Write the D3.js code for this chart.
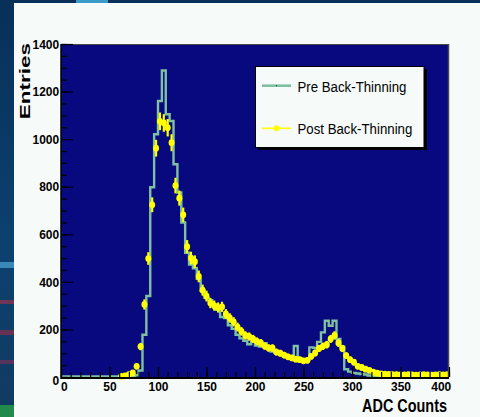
<!DOCTYPE html>
<html>
<head>
<meta charset="utf-8">
<script src="https://cdn.jsdelivr.net/npm/d3@7"></script>
<style>
  body { margin: 0; background: #0a3560; overflow: hidden; }
  text { font-family: "Liberation Sans", Arial, Helvetica, sans-serif; }
</style>
</head>
<body>
<div id="my_dataviz"></div>
<script>
// histogram binning: 100 bins of 4 ADC counts from 0 to 400
var binWidth = 4
var seriesNames = ["Pre Back-Thinning", "Post Back-Thinning"]

// entries per bin
var preCounts = [
  0, 0, 0, 0, 0, 0, 0, 0, 0, 0, 0, 0, 0, 0, 0, 0, 0, 0, 0,
  5, 25, 175, 338, 795, 1018, 1158, 1286, 1102, 1074, 892, 773, 647,
  520, 470, 455, 410, 360, 330, 320, 300, 280, 250, 245, 215, 200, 175,
  160, 150, 135, 145, 130, 125, 140, 120, 105, 100, 95, 90, 85, 80,
  128, 75, 65, 70, 122, 120, 145, 185, 234, 213, 234, 157, 125,
  30, 20, 15, 12, 10, 8, 4, 2,
  2, 1, 2, 1, 1, 2, 1, 1, 1, 2, 1, 1, 1, 1, 2, 1, 1, 1, 1
]
var postCounts = [
  0, 0, 0, 0, 0, 0, 0, 0, 0, 0, 0, 0, 0, 0, 0,
  2, 5, 10, 17, 45, 128, 305, 498, 724, 962, 1075, 1068, 1048, 985,
  805, 752, 682, 548, 500, 485, 423, 365, 340, 311, 300, 292, 295,
  265, 248, 232, 210, 192, 175, 170, 160, 150, 143, 130, 122, 122,
  105, 100, 92, 85, 80, 75, 73, 68, 70, 87, 101, 120, 129, 136, 160,
  175, 143, 120, 90, 73, 62, 45, 40, 33, 28, 20, 16, 13,
  12, 11, 10, 10, 9, 9, 10, 9, 8, 9, 10, 9, 8, 9, 10, 9, 10
]
var xTicks = [0, 50, 100, 150, 200, 250, 300, 350, 400]
var yTicks = [0, 200, 400, 600, 800, 1000, 1200, 1400]

var W = 480, H = 417
var svg = d3.select("#my_dataviz")
  .append("svg")
  .attr("width", W)
  .attr("height", H)

// slide background strip + white pad
var grad = svg.append("defs").append("linearGradient")
  .attr("id", "bg").attr("x1", 0).attr("y1", 0).attr("x2", 0).attr("y2", 1)
grad.append("stop").attr("offset", "0%").attr("stop-color", "#083058")
grad.append("stop").attr("offset", "60%").attr("stop-color", "#0c416f")
grad.append("stop").attr("offset", "100%").attr("stop-color", "#123a60")
svg.append("rect").attr("width", W).attr("height", H).attr("fill", "url(#bg)")
svg.append("rect").attr("x", 0).attr("y", 262).attr("width", 14).attr("height", 6).attr("fill", "#4fa6d8").attr("opacity", 0.7)
svg.append("rect").attr("x", 0).attr("y", 300).attr("width", 14).attr("height", 4).attr("fill", "#b0304a").attr("opacity", 0.6)
svg.append("rect").attr("x", 0).attr("y", 330).attr("width", 14).attr("height", 5).attr("fill", "#a02c48").attr("opacity", 0.6)
svg.append("rect").attr("x", 0).attr("y", 360).attr("width", 14).attr("height", 4).attr("fill", "#9a2a50").attr("opacity", 0.5)
svg.append("rect").attr("x", 0).attr("y", 405).attr("width", 14).attr("height", 12).attr("fill", "#1f8a4a")
svg.append("rect").attr("x", 76).attr("y", 0).attr("width", 32).attr("height", 3).attr("fill", "#3a9cc8")
svg.append("rect").attr("x", 14).attr("y", 3).attr("width", W - 14).attr("height", H - 3).attr("fill", "#f6faf8")

var plotL = 61, plotR = 449, plotT = 44, plotB = 377

var x = d3.scaleLinear().domain([0, 400]).range([plotL, plotR])
var y = d3.scaleLinear().domain([0, 1400]).range([plotB, plotT])

// plot area
svg.append("rect")
  .attr("x", plotL).attr("y", plotT)
  .attr("width", plotR - plotL).attr("height", plotB - plotT)
  .attr("fill", "#08087f")

// pre: step outline
var stepPts = preCounts.map(function (d, i) { return [i * binWidth, d] })
stepPts.push([preCounts.length * binWidth, preCounts[preCounts.length - 1]])
var stepLine = d3.line()
  .x(function (d) { return x(d[0]) })
  .y(function (d) { return y(d[1]) - 0.6 })
  .curve(d3.curveStepAfter)
svg.append("path")
  .datum(stepPts)
  .attr("fill", "none")
  .attr("stroke", "#7fc0a2")
  .attr("stroke-width", 2.4)
  .attr("d", stepLine)

// post: markers with error bars
var postPts = postCounts
  .map(function (d, i) { return { c: i * binWidth + binWidth / 2, v: d } })
  .filter(function (d) { return d.v > 0 })
var post = svg.append("g")
post.selectAll("line")
  .data(postPts)
  .enter().append("line")
  .attr("x1", function (d) { return x(d.c) })
  .attr("x2", function (d) { return x(d.c) })
  .attr("y1", function (d) { return y(d.v + Math.sqrt(d.v)) - 1 })
  .attr("y2", function (d) { return y(Math.max(0, d.v - Math.sqrt(d.v))) + 1 })
  .attr("stroke", "#ffff00")
  .attr("stroke-width", 2.2)
post.selectAll("ellipse")
  .data(postPts)
  .enter().append("ellipse")
  .attr("cx", function (d) { return x(d.c) })
  .attr("cy", function (d) { return y(d.v) })
  .attr("rx", 3)
  .attr("ry", 3.4)
  .attr("fill", "#ffff00")

// frame
svg.append("line").attr("x1", plotL).attr("x2", plotR).attr("y1", plotT + 0.5).attr("y2", plotT + 0.5)
  .attr("stroke", "#4a4a4a").attr("stroke-width", 1)
svg.append("line").attr("x1", plotR - 0.5).attr("x2", plotR - 0.5).attr("y1", plotT).attr("y2", plotB)
  .attr("stroke", "#4a4a4a").attr("stroke-width", 1.5)

// Y axis (ticks inward)
var yMinor = svg.append("g").attr("transform", "translate(" + plotL + ",0)")
  .call(d3.axisLeft(y).tickValues(d3.range(0, 1401, 50)).tickSize(-6).tickFormat(""))
var yAxis = svg.append("g").attr("transform", "translate(" + plotL + ",0)")
  .call(d3.axisLeft(y).tickValues(yTicks).tickSize(-12).tickPadding(2).tickFormat(d3.format("d")))
// X axis (ticks inward)
var xMinor = svg.append("g").attr("transform", "translate(0," + plotB + ")")
  .call(d3.axisBottom(x).tickValues(d3.range(0, 401, 10)).tickSize(-5).tickFormat(""))
var xAxis = svg.append("g").attr("transform", "translate(0," + plotB + ")")
  .call(d3.axisBottom(x).tickValues(xTicks).tickSize(-10).tickPadding(5).tickFormat(d3.format("d")))

svg.selectAll(".domain").remove()
svg.selectAll(".tick line").attr("stroke", "#000").attr("stroke-width", 1.2)
svg.selectAll(".tick text")
  .attr("font-size", 13)
  .attr("font-weight", "bold")
  .attr("font-family", "Liberation Sans, Arial, sans-serif")
  .attr("fill", "#000")
  .attr("transform", "scale(0.92,1)")
yAxis.selectAll(".tick text").filter(function (d) { return d === 0 }).attr("dy", "0.55em")
xAxis.selectAll(".tick text").filter(function (d) { return d === 0 }).attr("x", 3)
xAxis.selectAll(".tick text").filter(function (d) { return d === 400 }).attr("x", -9)

svg.append("line").attr("x1", plotL).attr("x2", plotL).attr("y1", plotT).attr("y2", plotB + 2)
  .attr("stroke", "#000").attr("stroke-width", 1.5)
svg.append("line").attr("x1", plotL).attr("x2", plotR).attr("y1", plotB + 1).attr("y2", plotB + 1)
  .attr("stroke", "#000").attr("stroke-width", 2)

// axis titles
svg.append("text")
  .attr("transform", "translate(29.5,43) rotate(-90) scale(1.45,1)")
  .attr("text-anchor", "end")
  .attr("font-size", 15.5)
  .attr("font-weight", "bold")
  .text("Entries")
svg.append("text")
  .attr("transform", "translate(447,411.5) scale(0.78,1)")
  .attr("text-anchor", "end")
  .attr("font-size", 18.5)
  .attr("font-weight", "bold")
  .text("ADC Counts")

// legend
var lg = svg.append("g")
lg.append("rect").attr("x", 258).attr("y", 69).attr("width", 169).attr("height", 81).attr("fill", "#000")
lg.append("rect").attr("x", 255.5).attr("y", 66.5).attr("width", 168.5).attr("height", 81)
  .attr("fill", "#f6faf8").attr("stroke", "#000").attr("stroke-width", 1)
var legendY = [85.7, 128.3]
lg.append("line").attr("x1", 262).attr("x2", 291).attr("y1", legendY[0]).attr("y2", legendY[0])
  .attr("stroke", "#7fc0a2").attr("stroke-width", 2.6)
lg.append("circle").attr("cx", 276.5).attr("cy", legendY[0]).attr("r", 0.6).attr("fill", "#333")
lg.append("line").attr("x1", 262).attr("x2", 291).attr("y1", legendY[1]).attr("y2", legendY[1])
  .attr("stroke", "#ffff00").attr("stroke-width", 1.6)
lg.append("circle").attr("cx", 276.5).attr("cy", legendY[1]).attr("r", 3).attr("fill", "#ffff00")
lg.selectAll("text.lab")
  .data(seriesNames)
  .enter().append("text")
  .attr("class", "lab")
  .attr("transform", function (d, i) { return "translate(297.5," + (legendY[i] + 6) + ") scale(0.86,1)" })
  .attr("font-size", 15.4)
  .attr("fill", "#000")
  .text(function (d) { return d })
</script>
</body>
</html>
